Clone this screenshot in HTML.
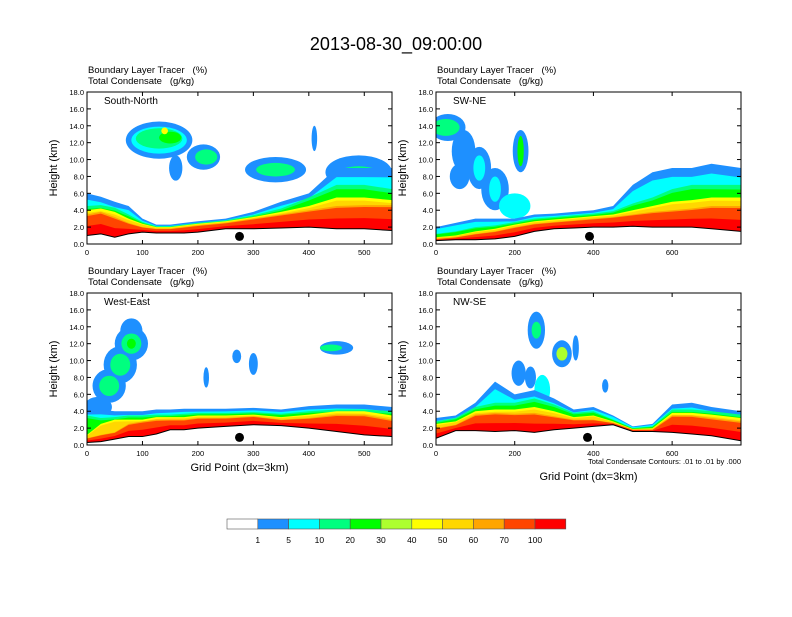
<!DOCTYPE html>
<html><head><meta charset="utf-8"><style>
body{margin:0;background:#fff;width:792px;height:612px;overflow:hidden;font-family:"Liberation Sans",sans-serif}
svg text{font-family:"Liberation Sans",sans-serif;white-space:pre}
</style></head><body>
<svg id="chart" width="792" height="612" xmlns="http://www.w3.org/2000/svg">
<text x="396" y="50" font-size="18" text-anchor="middle">2013-08-30_09:00:00</text>
<g id="panels"></g>
<g id="cbar"></g>
</svg>
<script>
const colors=["#ffffff","#1e90ff","#00ffff","#00ff7f","#00ff00","#adff2f","#ffff00","#ffd700","#ffa500","#ff4500","#ff0000"];
const cbLabels=["1","5","10","20","30","40","50","60","70","100"];
const panelTitles=["South-North","SW-NE","West-East","NW-SE"];
const panelXmax=[550,775,550,775];
const panelXTicks=[[0,100,200,300,400,500],[0,200,400,600],[0,100,200,300,400,500],[0,200,400,600]];
const markerX=[275,390,275,385];
const sx=[[0,25,50,75,100,125,150,175,200,250,300,350,400,450,500,550],
 [0,50,100,150,200,250,300,350,400,450,500,550,600,650,700,775],
 [0,25,50,75,100,125,150,175,200,250,300,350,400,450,500,550],
 [0,50,100,150,200,250,300,350,400,450,500,550,600,650,700,775]];
const terrain=[[1,1.2,0.8,1.2,1.4,1.3,1.3,1.3,1.4,1.8,1.8,1.9,2.0,1.8,1.8,1.6],
 [0.4,0.5,0.5,0.6,0.9,1.5,1.8,1.9,2.0,2.0,2.1,2.0,2.0,2.0,1.8,1.5],
 [0.3,0.4,0.7,1.0,1.0,1.3,1.8,1.8,2.0,2.2,2.4,2.3,2.0,1.6,1.2,1.0],
 [0.8,1.7,1.7,1.6,1.7,1.5,1.8,2.0,2.2,2.4,1.6,1.6,1.5,1.3,1.1,0.5]];
const orangeTop=[[3.5,3.8,3.2,2.5,2.0,1.8,1.8,2.0,2.2,2.5,3.0,3.5,4.0,4.5,4.6,4.6],
 [0.6,0.8,1.2,1.5,2.0,2.4,2.6,2.8,3.0,3.2,3.5,3.8,4.0,4.2,4.5,4.5],
 [0.8,1.2,1.5,2.5,2.8,3.0,3.0,3.0,3.2,3.2,3.4,3.0,3.2,3.6,3.6,3.0],
 [2.0,2.4,3.6,3.8,3.7,3.8,3.4,3.0,3.0,2.6,1.8,1.8,3.5,3.5,3.2,2.8]];
const yellowTop=[[4,4.2,3.8,3,2.4,2,2,2.2,2.4,2.7,3.2,3.8,4.5,5.5,5.5,5.2],
 [0.8,1.0,1.5,1.8,2.3,2.7,2.9,3.1,3.3,3.5,4.0,4.5,5.0,5.2,5.5,5.5],
 [1.2,2.5,3.0,3.0,3.0,3.3,3.3,3.3,3.5,3.5,3.6,3.3,3.6,4.0,4.0,3.5],
 [2.5,2.8,4.0,4.2,4.2,4.5,4.0,3.3,3.5,2.8,1.9,2.0,3.8,3.8,3.6,3.2]];
const greenTop=[[4.5,4.6,4.3,3.5,2.6,2.1,2.1,2.3,2.5,2.8,3.4,4.2,5.5,7,7,6.5],
 [1.2,1.5,2.0,2.2,2.6,3.0,3.2,3.4,3.6,3.9,4.8,5.5,6.5,7,7,7],
 [3.5,3.2,3.3,3.5,3.5,3.6,3.6,3.7,3.8,3.8,3.9,3.7,4.0,4.2,4.2,4.0],
 [2.8,3.2,4.5,5.0,5.0,5.5,4.8,3.8,4.0,3.0,2.0,2.2,4.2,4.2,4.0,3.6]];
const blueTop=[[6,5.6,5,4.5,3,2.3,2.3,2.5,2.7,3,3.8,5,6,9,9,9],
 [2.0,2.5,3.0,3.0,3.0,3.5,3.6,3.8,4.0,4.5,7.0,8.5,9.0,9.0,9.5,9.0],
 [4.2,4.2,4.0,4.0,4.0,4.2,4.2,4.3,4.3,4.3,4.4,4.2,4.6,4.8,4.8,4.5],
 [3.2,3.5,5.0,7.5,6.0,6.5,5.5,4.2,4.5,3.5,2.2,2.5,4.8,5.0,4.5,4.0]];
const blobPanel=[0,0,0,0,0,0,0,0,0,0,0,0,0, 1,1,1,1,1,1,1,1,1,1,1, 2,2,2,2,2,2,2,2,2,2,2,2,2,2, 3,3,3,3,3,3,3,3,3];
const blobX=[130,130,130,150,140,160,210,215,340,340,410,490,490, 30,25,70,110,150,110,150,200,215,215,60, 20,40,60,80,80,40,60,80,80,450,440,215,300,270, 255,255,320,320,210,240,270,355,430];
const blobH=[12.3,12.3,12.5,12.6,13.4,9,10.3,10.3,8.8,8.8,12.5,8.5,8, 13.8,13.8,11,9,6.5,9,6.5,4.5,11,11,8, 4.5,7,9.5,12,13.5,7,9.5,12,12,11.5,11.5,8,9.6,10.5, 13.6,13.6,10.8,10.8,8.5,8,6.5,11.5,7];
const blobRx=[60,50,42,20,6,12,30,20,55,35,5,60,45, 45,35,30,30,35,15,15,40,20,8,25, 25,30,30,30,20,18,18,18,8,30,20,5,8,8, 22,12,25,14,18,14,20,8,8];
const blobRy=[2.2,1.6,1.2,0.7,0.4,1.5,1.5,0.9,1.5,0.8,1.5,2,1.2, 1.6,1.0,2.5,2.5,2.5,1.5,1.5,1.5,2.5,1.8,1.5, 1.2,2,2.2,2,1.5,1.2,1.3,1.2,0.6,0.8,0.4,1.2,1.3,0.8, 2.2,1,1.6,0.8,1.5,1.3,1.8,1.5,0.8];
const blobC=[1,2,3,4,6,1,1,3,1,3,1,1,3, 1,3,1,1,1,2,2,2,1,4,1, 1,1,1,1,1,3,3,3,4,1,3,1,1,1, 1,3,1,5,1,1,2,1,1];

const NS="http://www.w3.org/2000/svg";
const panelsG=document.getElementById('panels');
const boxes=[[87,92],[436,92],[87,293],[436,293]];
const PW=305,PH=152;
function mk(t,a,p){const e=document.createElementNS(NS,t);for(const k in a)e.setAttribute(k,a[k]);p.appendChild(e);return e;}
for(let p=0;p<4;p++){
 const [x0,y0]=boxes[p];
 const g=mk('g',{},panelsG);
 
 
 const xs=v=>x0+v/panelXmax[p]*PW, ys=v=>y0+PH-v/18*PH;
 const cp=mk('clipPath',{id:'cp'+p},g);mk('rect',{x:x0,y:y0,width:PW,height:PH},cp);
 const pg=mk('g',{'clip-path':'url(#cp'+p+')'},g);
 for(let i=0;i<blobPanel.length;i++){ if(blobPanel[i]!==p)continue;
  const e=mk('ellipse',{cx:xs(blobX[i]),cy:ys(blobH[i]),rx:blobRx[i]/panelXmax[p]*PW,ry:blobRy[i]/18*PH,fill:colors[blobC[i]]},pg);
  
  }
 const layers=[[blueTop,1],[blueTop,2,0.85],[greenTop,3],[greenTop,4,0.9],[yellowTop,6],[yellowTop,7,0.9],[orangeTop,8],[orangeTop,9,0.92],[orangeTop,10,0.45]];
 const sxa=sx[p];
 for(const L of layers){
  const arr=L[0][p], f=L[2]||1;
  let d='M'+xs(sxa[0])+','+ys(terrain[p][0]);
  for(let i=0;i<sxa.length;i++){const t=terrain[p][i];d+=' L'+xs(sxa[i])+','+ys(t+(arr[i]-t)*f);}
  for(let i=sxa.length-1;i>=0;i--)d+=' L'+xs(sxa[i])+','+ys(terrain[p][i]);
  const e=mk('path',{d:d+'Z',fill:colors[L[1]]},pg);
  
  
 }
 let d='M'+xs(0)+','+ys(0);
 for(let i=0;i<sxa.length;i++)d+=' L'+xs(sxa[i])+','+ys(terrain[p][i]);
 d+=' L'+xs(panelXmax[p])+','+ys(0)+'Z';
 const tr=mk('path',{d:d,fill:'#fff',stroke:'#000','stroke-width':1},pg);
 
 
 const mkr=mk('circle',{cx:xs(markerX[p]),cy:ys(0.9),r:4.5,fill:'#000'},g);
 
 
 mk('rect',{x:x0,y:y0,width:PW,height:PH,fill:'none',stroke:'#000','stroke-width':1},g);
 const tt=mk('text',{x:x0+17,y:y0+12,'font-size':10},g);tt.textContent=panelTitles[p];
 
 
 const h1=mk('text',{x:x0+1,y:y0-19,'font-size':9.5},g);h1.textContent='Boundary Layer Tracer\u00a0\u00a0\u00a0(%)';
 const h2=mk('text',{x:x0+1,y:y0-8,'font-size':9.5},g);h2.textContent='Total Condensate\u00a0\u00a0\u00a0(g/kg)';
 for(let v=0;v<=18;v+=2){const y=ys(v);
  mk('line',{x1:x0,x2:x0+4,y1:y,y2:y,stroke:'#000'},g);mk('line',{x1:x0+PW,x2:x0+PW-4,y1:y,y2:y,stroke:'#000'},g);
  const t=mk('text',{x:x0-3,y:y+3,'font-size':7.5,'text-anchor':'end'},g);t.textContent=v.toFixed(1);}
 for(const v of panelXTicks[p]){const x=xs(v);
  mk('line',{x1:x,x2:x,y1:y0+PH,y2:y0+PH-4,stroke:'#000'},g);mk('line',{x1:x,x2:x,y1:y0,y2:y0+4,stroke:'#000'},g);
  const t=mk('text',{x:x,y:y0+PH+11,'font-size':7.5,'text-anchor':'middle'},g);t.textContent=v;}
 const yl=mk('text',{x:0,y:0,'font-size':11,'text-anchor':'middle',transform:`translate(${x0-30},${y0+PH/2}) rotate(-90)`},g);yl.textContent='Height (km)';
 
 
 if(p>=2){const xl=mk('text',{x:x0+PW/2,y:p==2?y0+PH+26:y0+PH+35,'font-size':11,'text-anchor':'middle'},g);xl.textContent='Grid Point (dx=3km)';
  
  }
 if(p==3){const c=mk('text',{x:x0+PW,y:y0+PH+19,'font-size':7.5,'text-anchor':'end'},g);c.textContent='Total Condensate Contours: .01 to .01 by .000';}
}
const cb=document.getElementById('cbar');
for(let i=0;i<colors.length;i++){
 const r=mk('rect',{x:227+i*30.8,y:519,width:30.8,height:10,fill:colors[i],stroke:'#555','stroke-width':0.6},cb);
 
 
 if(i<cbLabels.length){const t=mk('text',{x:227+(i+1)*30.8,y:543,'font-size':8.5,'text-anchor':'middle'},cb);t.textContent=cbLabels[i];}
}
</script>
</body></html>
